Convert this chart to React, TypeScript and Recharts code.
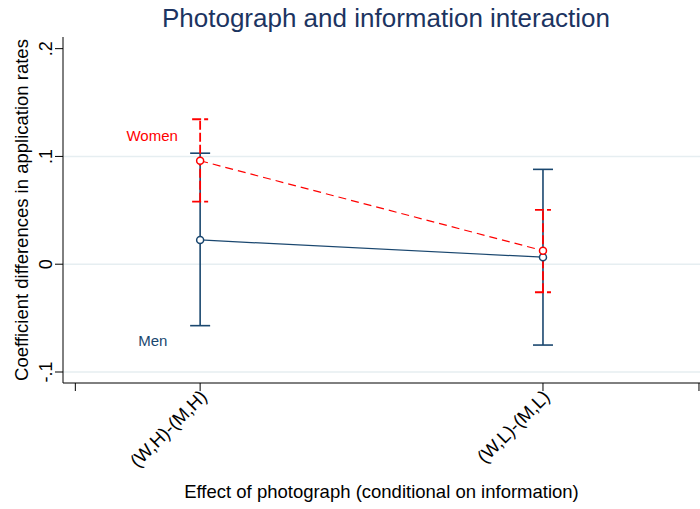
import { ComposedChart, Line, XAxis, YAxis, CartesianGrid, ErrorBar, ReferenceDot } from 'recharts';

const categories = ['(W,H)-(M,H)', '(W,L)-(M,L)'];
const positions = [1, 2];

const menCoef = [0.0225, 0.0065];
const menLow = [-0.057, -0.075];
const menHigh = [0.103, 0.088];

const womenCoef = [0.096, 0.0126];
const womenLow = [0.058, -0.026];
const womenHigh = [0.1345, 0.0504];

const yTicks = [-0.1, 0, 0.1, 0.2];
const yTickLabels = ['-.1', '0', '.1', '.2'];
const gridValues = [-0.1, 0, 0.1];
const xTicks = [0.636, 1, 2, 2.455];

const NAVY = '#1a476f';
const RED = '#ff0000';
const FONT = '"Liberation Sans", Arial, Helvetica, sans-serif';

const menData = positions.map((x, i) => ({
    x,
    y: menCoef[i],
    err: [menCoef[i] - menLow[i], menHigh[i] - menCoef[i]],
}));

const womenData = positions.map((x, i) => ({
    x,
    y: womenCoef[i],
    err: [womenCoef[i] - womenLow[i], womenHigh[i] - womenCoef[i]],
}));

function YTick(props: any) {
    const { x, y, payload } = props;
    const idx = yTicks.indexOf(payload.value);
    const label = idx >= 0 ? yTickLabels[idx] : '';
    return (
        <text
            x={x - 1}
            y={y}
            transform={`rotate(-90, ${x - 1}, ${y})`}
            textAnchor="middle"
            fontSize={18}
            fontFamily={FONT}
            fill="#000"
        >
            {label}
        </text>
    );
}

function XTick(props: any) {
    const { x, y, payload } = props;
    const idx = positions.indexOf(payload.value);
    if (idx < 0) return null;
    const tx = x + 8;
    const ty = y + 5;
    return (
        <text
            x={tx}
            y={ty}
            transform={`rotate(-45, ${tx}, ${ty})`}
            textAnchor="end"
            fontSize={18.5}
            fontFamily={FONT}
            fill="#000"
        >
            {categories[idx]}
        </text>
    );
}

export default function App() {
    return (
        <div style={{ position: 'absolute', left: 0, top: 0, width: 700, height: 509, background: '#fff', fontFamily: FONT }}>
            <div
                style={{
                    position: 'absolute',
                    left: 63,
                    width: 646,
                    top: 3,
                    textAlign: 'center',
                    fontSize: 26,
                    color: '#1c3461',
                    whiteSpace: 'nowrap',
                }}
            >
                Photograph and information interaction
            </div>
            <ComposedChart width={700} height={509} margin={{ top: 37, right: 0, bottom: 0, left: 0 }}>
                <CartesianGrid
                    vertical={false}
                    horizontalValues={gridValues}
                    stroke="#e6eef1"
                    strokeWidth={1.5}
                />
                <XAxis
                    type="number"
                    dataKey="x"
                    domain={[0.6, 2.458]}
                    ticks={xTicks}
                    allowDataOverflow
                    interval={0}
                    height={126}
                    tickSize={8}
                    stroke="#000"
                    tick={<XTick />}
                    label={{
                        value: 'Effect of photograph (conditional on information)',
                        position: 'insideBottom',
                        offset: 11,
                        fontSize: 18.5,
                        fill: '#000',
                        fontFamily: FONT,
                    }}
                />
                <YAxis
                    type="number"
                    domain={[-0.1102, 0.2108]}
                    ticks={yTicks}
                    allowDataOverflow
                    interval={0}
                    width={63}
                    tickSize={8}
                    stroke="#000"
                    tick={<YTick />}
                    label={{
                        value: 'Coefficient differences in application rates',
                        angle: -90,
                        position: 'insideLeft',
                        offset: 21,
                        fontSize: 18.5,
                        fill: '#000',
                        fontFamily: FONT,
                        style: { textAnchor: 'middle' },
                    }}
                />
                <Line
                    data={menData}
                    dataKey="y"
                    stroke={NAVY}
                    strokeWidth={1.2}
                    dot={{ r: 3.5, stroke: NAVY, strokeWidth: 1.5, fill: '#fff' }}
                    activeDot={false}
                    isAnimationActive={false}
                >
                    <ErrorBar dataKey="err" direction="y" width={10} stroke={NAVY} strokeWidth={1.6} />
                </Line>
                <Line
                    data={womenData}
                    dataKey="y"
                    stroke={RED}
                    strokeWidth={1.2}
                    strokeDasharray="8 5"
                    dot={{ r: 3.5, stroke: RED, strokeWidth: 1.5, fill: '#fff', strokeDasharray: '0' }}
                    activeDot={false}
                    isAnimationActive={false}
                >
                    <ErrorBar dataKey="err" direction="y" width={8} stroke={RED} strokeWidth={1.8} strokeDasharray="9 3" />
                </Line>
                <ReferenceDot
                    x={0.86}
                    y={0.119}
                    r={0}
                    label={{ value: 'Women', fill: RED, fontSize: 15, fontFamily: FONT }}
                />
                <ReferenceDot
                    x={0.862}
                    y={-0.071}
                    r={0}
                    label={{ value: 'Men', fill: NAVY, fontSize: 15, fontFamily: FONT }}
                />
            </ComposedChart>
        </div>
    );
}
